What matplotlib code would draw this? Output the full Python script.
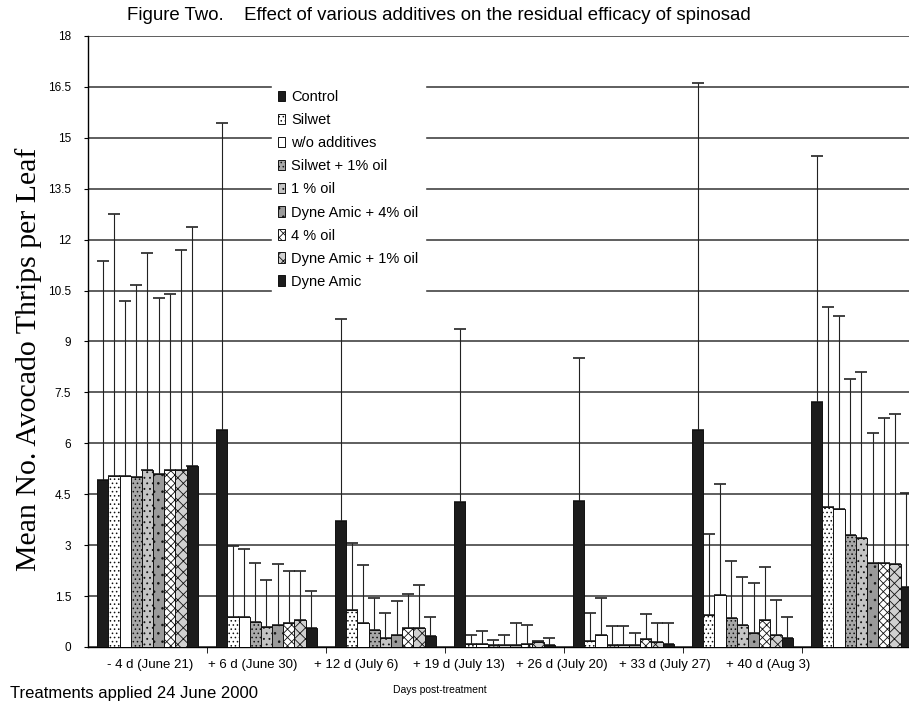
import numpy as np
import matplotlib
matplotlib.use("Agg")
import matplotlib.pyplot as plt

SANS = ["Liberation Sans", "DejaVu Sans"]
SERIF = ["Liberation Serif", "DejaVu Serif"]

dates = ["- 4 d (June 21)", "+ 6 d (June 30)", "+ 12 d (July 6)", "+ 19 d (July 13)",
         "+ 26 d (July 20)", "+ 33 d (July 27)", "+ 40 d (Aug 3)"]

treatments = ["Control", "Silwet", "w/o additives", "Silwet + 1% oil", "1 % oil",
              "Dyne Amic + 4% oil", "4 % oil", "Dyne Amic + 1% oil", "Dyne Amic"]

# mean thrips per leaf, one list per treatment (7 sampling dates)
control_mean = [4.92, 6.39, 3.72, 4.28, 4.30, 6.39, 7.23]
silwet_mean = [5.05, 0.89, 1.09, 0.08, 0.18, 0.94, 4.12]
noadd_mean = [5.05, 0.87, 0.70, 0.08, 0.35, 1.53, 4.06]
silwet_oil1_mean = [5.02, 0.75, 0.50, 0.05, 0.05, 0.85, 3.30]
oil1_mean = [5.20, 0.60, 0.27, 0.05, 0.05, 0.65, 3.20]
dyne_oil4_mean = [5.11, 0.65, 0.35, 0.06, 0.05, 0.40, 2.48]
oil4_mean = [5.20, 0.70, 0.57, 0.08, 0.23, 0.78, 2.48]
dyne_oil1_mean = [5.20, 0.80, 0.57, 0.15, 0.15, 0.35, 2.44]
dyne_mean = [5.33, 0.55, 0.32, 0.05, 0.10, 0.26, 1.76]

# upper end of each error bar
control_top = [11.38, 15.43, 9.66, 9.36, 8.50, 16.60, 14.45]
silwet_top = [12.76, 2.98, 3.05, 0.35, 0.99, 3.32, 10.03]
noadd_top = [10.20, 2.88, 2.42, 0.48, 1.43, 4.79, 9.76]
silwet_oil1_top = [10.67, 2.48, 1.43, 0.20, 0.62, 2.53, 7.89]
oil1_top = [11.62, 1.97, 0.99, 0.35, 0.62, 2.05, 8.11]
dyne_oil4_top = [10.27, 2.45, 1.34, 0.70, 0.42, 1.88, 6.29]
oil4_top = [10.39, 2.24, 1.56, 0.65, 0.97, 2.37, 6.74]
dyne_oil1_top = [11.68, 2.24, 1.83, 0.18, 0.70, 1.38, 6.87]
dyne_top = [12.37, 1.65, 0.89, 0.26, 0.70, 0.88, 4.53]

means = [control_mean, silwet_mean, noadd_mean, silwet_oil1_mean, oil1_mean,
         dyne_oil4_mean, oil4_mean, dyne_oil1_mean, dyne_mean]
tops = [control_top, silwet_top, noadd_top, silwet_oil1_top, oil1_top,
        dyne_oil4_top, oil4_top, dyne_oil1_top, dyne_top]

yticks = [0, 1.5, 3, 4.5, 6, 7.5, 9, 10.5, 12, 13.5, 15, 16.5, 18]

# face colour / hatch for each treatment
styles = [
    ("#1c1c1c", None),
    ("white", "...."),
    ("white", None),
    ("#a8a8a8", "...."),
    ("#c4c4c4", "..."),
    ("#9a9a9a", ".."),
    ("white", "xxxx"),
    ("#d0d0d0", "xxx"),
    ("#1c1c1c", None),
]

plt.rcParams["hatch.linewidth"] = 0.6

fig = plt.figure(figsize=(9.09, 7.08), dpi=100)
ax = fig.add_axes([0.0968, 0.0862, 0.9032, 0.8630])

x = np.arange(len(dates))
width = 0.094
for i, (name, m, t) in enumerate(zip(treatments, means, tops)):
    pos = x + 0.5 + (i - 4) * width
    fc, hatch = styles[i]
    ax.bar(pos, m, width, color=fc, edgecolor="#111", linewidth=0.7,
           hatch=hatch, label=name, zorder=3)
    err = np.array(t) - np.array(m)
    ax.errorbar(pos, m, yerr=[np.zeros(len(m)), err], fmt="none",
                ecolor="#222", elinewidth=0.8, capsize=4.5, capthick=1.2, zorder=2)

ax.set_xlim(0, 6.9)
ax.set_ylim(0, 18)
ax.set_yticks(yticks)
ax.set_yticklabels([f"{v:g}" for v in yticks], fontfamily=SANS, fontsize=8.5)
ax.yaxis.grid(True, color="#333", linewidth=1.1)
ax.set_axisbelow(True)
ax.tick_params(axis="y", length=3, pad=9)

# date labels sit a little left of the groups, as in the printed figure
label_pos = 0.52 + 0.866 * x
ax.set_xticks(label_pos)
ax.set_xticklabels(dates, fontfamily=SANS, fontsize=9.5)
ax.tick_params(axis="x", which="major", length=0, pad=9)
ax.set_xticks(np.arange(1, 7), minor=True)
ax.tick_params(axis="x", which="minor", length=4, direction="out")

for side in ["top", "right"]:
    ax.spines[side].set_visible(False)
ax.spines["left"].set_linewidth(1.0)
ax.spines["bottom"].set_linewidth(1.0)

ax.set_ylabel("Mean No. Avocado Thrips per Leaf", fontfamily=SERIF, fontsize=21.5)
ax.yaxis.set_label_coords(-0.056, 0.47)

leg = ax.legend(loc="upper left", bbox_to_anchor=(0.291, 0.891),
                bbox_transform=fig.transFigure, frameon=True, fancybox=False,
                edgecolor="white", facecolor="white", framealpha=1,
                handlelength=0.5, handleheight=0.7, handletextpad=0.45,
                labelspacing=0.62, borderpad=0.4,
                prop={"family": SANS, "size": 10.5})
leg.set_zorder(5)

fig.text(0.14, 0.978, "Figure Two.    Effect of various additives on the residual efficacy of spinosad",
         fontfamily=SANS, fontsize=13.4, va="center", ha="left")
fig.text(0.011, 0.021, "Treatments applied 24 June 2000", fontfamily=SANS,
         fontsize=12, va="center", ha="left")
fig.text(0.484, 0.025, "Days post-treatment", fontfamily=SANS, fontsize=7.5,
         va="center", ha="center")

fig.savefig("out.png", dpi=100)
